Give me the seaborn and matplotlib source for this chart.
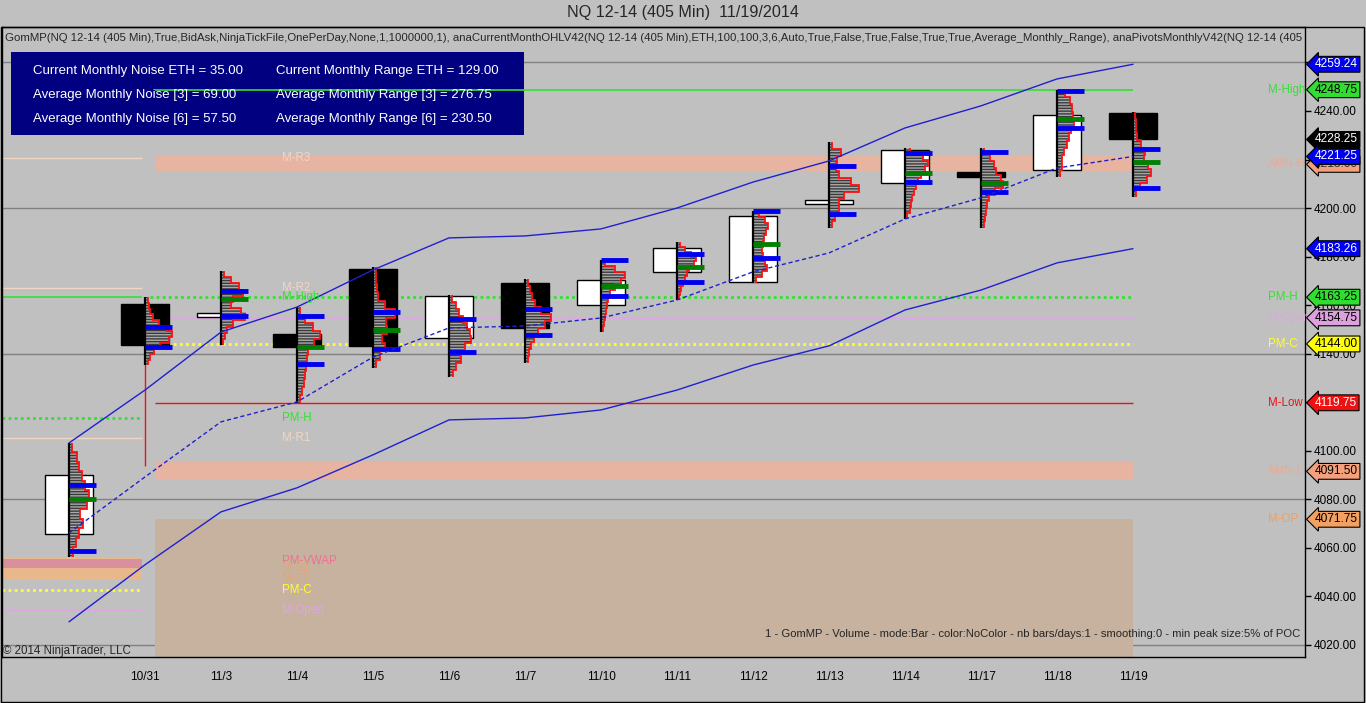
import numpy as np
import matplotlib
matplotlib.use("Agg")
import matplotlib.pyplot as plt
import matplotlib.transforms as mtransforms
from matplotlib.patches import Rectangle
import seaborn as sns

# ---- data ----
dates = ["10/30", "10/31", "11/3", "11/4", "11/5", "11/6", "11/7", "11/10",
         "11/11", "11/12", "11/13", "11/14", "11/17", "11/18", "11/19"]
opens = [4065.75, 4160.50, 4155.00, 4148.00, 4175.00, 4146.50, 4169.00, 4160.00,
         4173.75, 4169.50, 4201.75, 4210.25, 4215.00, 4215.75, 4239.25]
highs = [4103.25, 4163.25, 4174.00, 4159.25, 4175.75, 4164.00, 4170.75, 4178.50,
         4186.00, 4198.75, 4227.25, 4224.75, 4224.75, 4248.75, 4239.50]
lows = [4056.25, 4135.25, 4143.50, 4119.75, 4134.00, 4130.50, 4136.25, 4149.00,
        4162.00, 4169.00, 4191.75, 4195.50, 4191.75, 4212.75, 4204.50]
closes = [4090.00, 4143.50, 4156.75, 4142.75, 4143.25, 4163.75, 4150.50, 4170.50,
          4183.50, 4196.75, 4203.25, 4224.00, 4212.75, 4238.50, 4228.25]

# volume profile per day, top (high) to bottom (low)
profiles = [
    [3, 8, 10, 13, 16, 20, 18, 11, 14, 10, 7, 4],
    [3, 4, 5, 8, 14, 22, 27, 24, 15, 9, 5, 3],
    [3, 10, 18, 22, 12, 10, 20, 24, 12, 6, 4, 2],
    [3, 8, 16, 23, 17, 11, 10, 9, 8, 7, 5, 3],
    [3, 3, 4, 5, 12, 22, 13, 14, 9, 12, 7, 3],
    [3, 7, 10, 14, 18, 21, 22, 16, 11, 12, 7, 4],
    [3, 5, 7, 10, 16, 26, 20, 13, 9, 6, 4, 3],
    [4, 14, 24, 20, 14, 9, 7, 6, 5, 4, 3, 2],
    [3, 8, 14, 19, 17, 12, 10, 8, 6, 4, 3, 2],
    [6, 12, 15, 13, 11, 10, 9, 10, 12, 14, 9, 3],
    [3, 12, 8, 7, 10, 22, 30, 15, 10, 10, 6, 3],
    [5, 18, 23, 20, 16, 13, 11, 9, 7, 6, 5, 2],
    [3, 9, 13, 15, 20, 22, 14, 8, 6, 5, 4, 3],
    [8, 13, 15, 16, 17, 14, 12, 10, 7, 5, 5, 3],
    [2, 3, 3, 4, 8, 12, 11, 15, 18, 14, 7, 3],
]
va_high = [4086.00, 4151.00, 4165.75, 4155.50, 4157.25, 4154.25, 4158.50, 4178.50,
           4181.00, 4198.75, 4217.25, 4222.75, 4223.00, 4248.25, 4224.25]
va_low = [4058.75, 4142.75, 4155.50, 4135.75, 4142.00, 4140.75, 4147.75, 4163.75,
          4169.50, 4179.50, 4197.50, 4210.75, 4206.50, 4233.00, 4208.25]
poc = [4080.00, np.nan, 4162.50, 4142.75, 4149.75, np.nan, np.nan, 4168.00,
       4175.75, 4185.25, np.nan, 4214.50, 4210.25, 4236.75, 4219.00]

band_upper = [4103.2, 4125.0, 4148.9, 4159.2, 4174.5, 4187.7, 4188.5, 4191.4,
              4200.0, 4210.7, 4219.4, 4233.0, 4242.1, 4253.2, 4259.24]
band_mid = [4066.1, 4089.2, 4111.9, 4120.1, 4138.6, 4150.6, 4151.4, 4154.7,
            4162.1, 4173.7, 4181.5, 4195.5, 4204.2, 4216.5, 4221.25]
band_lower = [4029.5, 4053.0, 4074.8, 4084.7, 4098.3, 4112.7, 4113.5, 4116.8,
              4125.0, 4135.3, 4143.2, 4158.0, 4166.2, 4177.4, 4183.26]

# current month levels
m_high = 4248.75
amn_h = 4218.00
amn_h_band = (4215.25, 4221.75)
pm_h = 4163.25
m_open = 4154.75
pm_c = 4144.00
m_low = 4119.75
amn_l = 4091.50
amn_l_band = (4088.25, 4095.25)
m_op = 4071.75

# previous month (left segment) levels
prev_names = ["M-R3", "M-R2", "M-High", "PM-H", "M-R1", "PM-VWAP", "M-S1", "M-S2", "PM-C", "M-Open"]
prev_values = [4220.50, 4167.00, 4163.25, 4113.50, 4105.25, 4054.50, 4051.50, 4047.25, 4042.50, 4034.25]

info_left = ["Current Monthly Noise ETH = 35.00", "Average Monthly Noise [3] = 69.00",
             "Average Monthly Noise [6] = 57.50"]
info_right = ["Current Monthly Range ETH = 129.00", "Average Monthly Range [3] = 276.75",
              "Average Monthly Range [6] = 230.50"]

# ---- style ----
sns.set_style("white")
plt.rcParams['font.family'] = ['Liberation Sans', 'DejaVu Sans']
BG = '#c0c0c0'
BLUE = '#2020d0'
GREEN = '#33e033'
PEACH = '#f2d6c4'
SALMON = '#f0a88c'
YELLOW = '#ffff30'
VIOLET = '#dca8e0'


def px(v):
    # screen column of the reference -> bar index
    return (v - 69) / 76


fig = plt.figure(figsize=(13.66, 7.03), dpi=100, facecolor=BG)
ax = fig.add_axes([2 / 1366, 46 / 703, 1303 / 1366, 630 / 703])
ax.set_facecolor(BG)
ymin, ymax = 4015.0, 4274.6
ax.set_xlim(px(2), px(1305))
ax.set_ylim(ymin, ymax)
trans = mtransforms.blended_transform_factory(ax.transAxes, ax.transData)

idx = np.arange(len(dates))

# grid lines every 60 points
for g in np.arange(4020, 4261, 60):
    ax.axhline(g, color='#808080', lw=1, zorder=1)

# ---- previous month (left) segment ----
l0, l1 = px(2), px(142)
ax.fill_between([l0, l1], 4046.75, 4056.25, color='#e8b88c', lw=0, zorder=1.5)
ax.fill_between([l0, l1], 4051.75, 4055.50, color='#d8909c', lw=0, zorder=1.6)
ax.hlines(prev_values[0], l0, l1, color=PEACH, lw=1, zorder=2)
ax.hlines(prev_values[1], l0, l1, color=PEACH, lw=1, zorder=2)
ax.hlines(prev_values[2], l0, l1, color=GREEN, lw=1.2, zorder=2)
ax.hlines(prev_values[3], l0, l1, color=GREEN, lw=2, linestyles=(0, (1, 1.2)), zorder=2)
ax.hlines(prev_values[4], l0, l1, color=PEACH, lw=1, zorder=2)
ax.hlines(prev_values[8], l0, l1, color=YELLOW, lw=2, linestyles=(0, (1, 1.2)), zorder=2)
ax.hlines(prev_values[9], l0, l1, color=VIOLET, lw=1, zorder=2)

# ---- current month segment ----
r0, r1 = px(155), px(1133)
ax.fill_between([r0, r1], ymin, m_op, color='#c6b29e', lw=0, zorder=1.2)
ax.fill_between([r0, r1], *amn_h_band, color='#e6b4a0', lw=0, zorder=1.5)
ax.fill_between([r0, r1], *amn_l_band, color='#e6b4a0', lw=0, zorder=1.5)
ax.hlines(m_high, r0, r1, color=GREEN, lw=1.2, zorder=2.6)
ax.hlines(pm_h, px(150), r1, color=GREEN, lw=2, linestyles=(0, (1, 1.2)), zorder=2)
ax.hlines(m_open, r0, r1, color=VIOLET, lw=1, zorder=2)
ax.hlines(pm_c, r0, r1, color=YELLOW, lw=2, linestyles=(0, (1, 1.2)), zorder=2)
ax.hlines(m_low, r0, r1, color='#ee1111', lw=1, zorder=2)
ax.vlines(1, amn_l + 2, closes[1], color='#ee1111', lw=1, zorder=2)

# ---- candles ----
for i in idx:
    up = closes[i] >= opens[i]
    ax.bar(i, abs(closes[i] - opens[i]), bottom=min(opens[i], closes[i]), width=0.62,
           color='white' if up else 'black', edgecolor='black', lw=1, zorder=3)

# ---- volume profiles ----
for i in idx:
    w = np.array(profiles[i][::-1]) / 76
    edges = np.linspace(lows[i], highs[i], len(w) + 1)
    ax.stairs(i + w, edges, orientation='horizontal', baseline=i, fill=True,
              facecolor='#3a3a3a', edgecolor='#a8a8a8', hatch='------', lw=0, zorder=4)
    ax.stairs(i + w, edges, orientation='horizontal', baseline=None,
              color='#ff1010', lw=1.3, zorder=5)
    ax.vlines(i, lows[i], highs[i], color='black', lw=1.6, zorder=5)
    ax.hlines([va_high[i], va_low[i]], i, i + 0.36, color='#0000f0', lw=3.5, zorder=6)
    if not np.isnan(poc[i]):
        ax.hlines(poc[i], i, i + 0.36, color='#008000', lw=3.5, zorder=6)

# ---- range bands ----
sns.lineplot(x=idx, y=band_upper, ax=ax, color=BLUE, lw=1, zorder=7)
sns.lineplot(x=idx, y=band_lower, ax=ax, color=BLUE, lw=1, zorder=7)
sns.lineplot(x=idx, y=band_mid, ax=ax, color=BLUE, lw=1, linestyle=(0, (3, 2)), zorder=7)

# ---- labels on the levels ----
mid_colors = [PEACH, PEACH, GREEN, GREEN, PEACH, '#f07090', '#e0a878', '#e0a878', YELLOW, VIOLET]
for name, val, col in zip(prev_names, prev_values, mid_colors):
    ax.text(280 / 1303, val, name, transform=trans, color=col, fontsize=8.3,
            va='center', ha='left', zorder=8)

right_labels = [("M-High", m_high, GREEN), ("AMN-H", amn_h, SALMON), ("PM-H", pm_h, GREEN),
                ("M-Open", m_open, VIOLET), ("PM-C", pm_c, YELLOW), ("M-Low", m_low, '#ee1111'),
                ("AMN-L", amn_l, SALMON), ("M-OP", m_op, '#f0a060')]
for name, val, col in right_labels:
    ax.text(1266 / 1303, val, name, transform=trans, color=col, fontsize=8.3,
            va='center', ha='left', zorder=8)

# ---- price markers on the axis ----
markers = [(band_upper[-1], '#0000ee', 'white'), (m_high, '#30dd30', 'black'),
           (closes[-1], 'black', 'white'), (amn_h, '#f4a07c', '#303030'),
           (band_mid[-1], '#0000ee', 'white'), (band_lower[-1], '#0000ee', 'white'),
           (pm_h, '#30dd30', 'black'), (m_open, '#dca0dc', 'black'),
           (pm_c, '#ffff00', 'black'), (m_low, '#ee1111', 'white'),
           (amn_l, '#f4a07c', 'black'), (m_op, '#f4a060', 'black')]
for k, (val, fc, tc) in enumerate(markers):
    ax.text(1.0 + 10 / 1303, val, f"{val:.2f}", transform=trans, ha='left', va='center',
            fontsize=8.6, color=tc, clip_on=False, zorder=10 + k,
            bbox=dict(boxstyle='larrow,pad=0.16', fc=fc, ec='black', lw=0.8))

# ---- axes ----
ax.yaxis.tick_right()
ax.set_yticks(np.arange(4020, 4261, 20))
ax.yaxis.set_major_formatter(matplotlib.ticker.StrMethodFormatter('{x:.2f}'))
ax.set_xticks(idx[1:])
ax.set_xticklabels(dates[1:])
ax.tick_params(axis='both', direction='out', length=4, width=1, color='black',
               labelsize=8.5, labelcolor='black', pad=2)
ax.tick_params(axis='x', pad=6)
for s in ax.spines.values():
    s.set_color('black')
    s.set_linewidth(1)
ax.set_xlabel('')
ax.set_ylabel('')

# info box
ax.add_patch(Rectangle((9 / 1303, 1 - 108 / 630), 513 / 1303, 83 / 630, transform=ax.transAxes,
                       facecolor='#000080', edgecolor='none', zorder=2.5))
for r, (a, b) in enumerate(zip(info_left, info_right)):
    yy = 1 - (44 + 24 * r) / 630
    ax.text(31 / 1303, yy, a, transform=ax.transAxes, color='white', fontsize=9.5, va='center', zorder=2.7)
    ax.text(274 / 1303, yy, b, transform=ax.transAxes, color='white', fontsize=9.5, va='center', zorder=2.7)

ax.text(3 / 1303, 1 - 11 / 630,
        "GomMP(NQ 12-14 (405 Min),True,BidAsk,NinjaTickFile,OnePerDay,None,1,1000000,1), "
        "anaCurrentMonthOHLV42(NQ 12-14 (405 Min),ETH,100,100,3,6,Auto,True,False,True,False,True,True,"
        "Average_Monthly_Range), anaPivotsMonthlyV42(NQ 12-14 (405 Min),ETH,Auto,True",
        transform=ax.transAxes, fontsize=8.2, va='center', ha='left', clip_on=True, zorder=9)
ax.text(1298 / 1303, 1 - 607 / 630,
        "1 - GomMP - Volume - mode:Bar - color:NoColor - nb bars/days:1 - smoothing:0 - min peak size:5% of POC",
        transform=ax.transAxes, fontsize=8.1, va='center', ha='right', zorder=9)
ax.text(1 / 1303, 1 - 624 / 630, "\u00a9 2014 NinjaTrader, LLC", transform=ax.transAxes,
        fontsize=8.3, va='center', ha='left', zorder=9)

# window frame and title
fig.add_artist(Rectangle((1 / 1366, 1 / 703), 1363 / 1366, 675 / 703, transform=fig.transFigure,
                         facecolor='none', edgecolor='black', lw=1))
fig.text(683 / 1366, 1 - 13 / 703, "NQ 12-14 (405 Min)  11/19/2014", ha='center', va='center',
         fontsize=11.6)

fig.savefig("out.png", dpi=100, facecolor=BG)
